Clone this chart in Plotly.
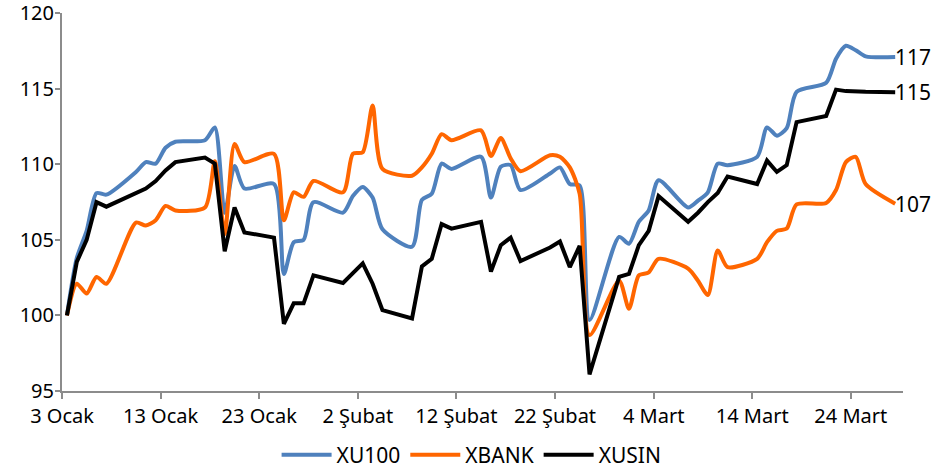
import pandas as pd
import plotly.graph_objects as go

# Trading days (weekdays) 3 Jan - 28 Mar
dates = pd.bdate_range("2022-01-03", "2022-03-28")

xu100 = [100.0, 103.8, 105.6, 108.1, 108.0,
         109.5, 110.15, 110.05, 111.1, 111.5,
         111.6, 112.45, 106.8, 109.9, 108.4,
         108.7, 102.75, 104.85, 105.0, 107.5,
         106.8, 107.9, 108.5, 107.8, 105.7,
         104.55, 107.65, 108.05, 110.05, 109.7,
         110.5, 107.8, 109.85, 109.95, 108.3,
         109.4, 109.8, 108.7, 108.6, 99.7,
         105.2, 104.75, 106.2, 106.95, 108.95,
         107.15, 107.6, 108.15, 110.05, 109.95,
         110.5, 112.45, 111.9, 112.4, 114.8,
         115.4, 117.0, 117.85, 117.55, 117.15,
         117.1]

xbank = [100.0, 102.1, 101.45, 102.55, 102.1,
         106.15, 105.95, 106.3, 107.25, 106.95,
         107.15, 110.2, 105.4, 111.35, 110.15,
         110.7, 106.3, 108.15, 107.85, 108.9,
         108.15, 110.7, 110.8, 113.9, 109.7,
         109.25, 109.8, 110.7, 112.0, 111.6,
         112.25, 110.55, 111.75, 110.4, 109.55,
         110.6, 110.5, 109.8, 108.05, 98.7,
         102.3, 100.45, 102.65, 102.85, 103.75,
         103.1, 102.3, 101.35, 104.3, 103.2,
         103.75, 104.85, 105.6, 105.75, 107.35,
         107.45, 108.3, 110.15, 110.5, 108.7,
         107.4]

xusin = [100.0, 103.55, 105.0, 107.5, 107.2,
         108.05, 108.4, 108.9, 109.6, 110.15,
         110.45, 110.05, 104.25, 107.15, 105.5,
         105.15, 99.45, 100.8, 100.8, 102.65,
         102.15, 102.8, 103.45, 102.1, 100.35,
         99.8, 103.25, 103.75, 106.05, 105.75,
         106.2, 102.9, 104.65, 105.15, 103.6,
         104.5, 104.9, 103.2, 104.6, 96.1,
         102.55, 102.75, 104.65, 105.6, 107.9,
         106.2, 106.8, 107.5, 108.1, 109.2,
         108.7, 110.25, 109.5, 109.95, 112.8,
         113.2, 114.95, 114.85, 114.82, 114.8,
         114.78]

tick_dates = ["2022-01-03", "2022-01-13", "2022-01-23", "2022-02-02", "2022-02-12",
              "2022-02-22", "2022-03-04", "2022-03-14", "2022-03-24"]
tick_labels = ["3 Ocak", "13 Ocak", "23 Ocak", "2 Şubat", "12 Şubat",
               "22 Şubat", "4 Mart", "14 Mart", "24 Mart"]
y_ticks = [95, 100, 105, 110, 115, 120]

series = [
    ("XU100", xu100, "#4F81BD", "spline"),
    ("XBANK", xbank, "#FF6600", "spline"),
    ("XUSIN", xusin, "#000000", "linear"),
]

FONT = "Noto Sans"
fig = go.Figure()
for name, vals, color, shape in series:
    fig.add_trace(go.Scatter(
        x=dates, y=vals, name=name, mode="lines",
        line=dict(color=color, width=4, shape=shape, smoothing=0.7),
    ))
    fig.add_annotation(
        x=dates[-1], y=vals[-1], text=f"{round(vals[-1])}",
        xanchor="left", yanchor="middle", showarrow=False, xshift=-1,
        borderpad=0,
        font=dict(family=FONT, size=21, color="#000000"),
    )

# ticks sit at the day boundary (half a day before each date's point)
tickvals = [pd.Timestamp(d) - pd.Timedelta(hours=12) for d in tick_dates]

axis_color = "#8C8C8C"
fig.update_layout(
    width=932, height=471,
    margin=dict(l=62, r=29, t=13, b=80, autoexpand=False),
    paper_bgcolor="white", plot_bgcolor="white",
    font=dict(family=FONT, size=20, color="#000000"),
    showlegend=True,
    legend=dict(orientation="h", xref="container", yref="container",
                x=0.506, xanchor="center", y=0.034, yanchor="middle",
                font=dict(size=21), itemwidth=50, tracegroupgap=0),
    xaxis=dict(
        type="date",
        range=[pd.Timestamp("2022-01-03") - pd.Timedelta(hours=12),
               pd.Timestamp("2022-03-28") + pd.Timedelta(hours=19)],
        tickmode="array", tickvals=tickvals, ticktext=tick_labels,
        showline=True, linecolor=axis_color, linewidth=2,
        ticks="outside", ticklen=6, tickcolor=axis_color, tickwidth=2,
        showgrid=False, zeroline=False,
        tickfont=dict(size=20), ticklabeloverflow="allow",
    ),
    yaxis=dict(
        range=[95, 120.02],
        tickmode="array", tickvals=y_ticks, ticktext=[str(v) for v in y_ticks],
        showline=True, linecolor=axis_color, linewidth=2,
        ticks="outside", ticklen=5, tickcolor=axis_color, tickwidth=2,
        showgrid=False, zeroline=False,
        tickfont=dict(size=20), ticklabeloverflow="allow",
        ticklabelstandoff=-3,
    ),
)

fig.write_html("out.html", config={"displayModeBar": False},
               post_script="document.body.style.margin='0';document.body.style.overflow='hidden';")
